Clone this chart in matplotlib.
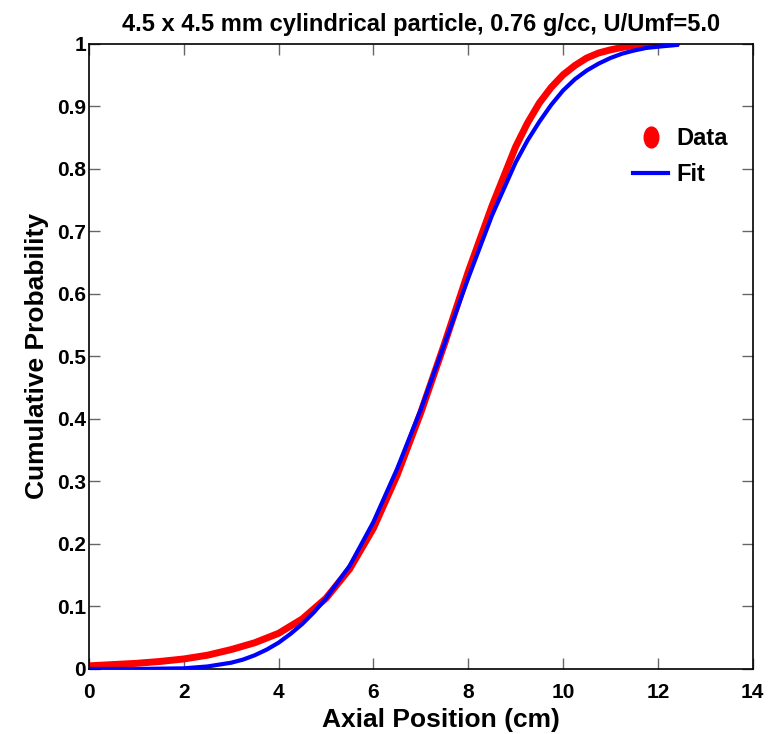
import matplotlib
matplotlib.use('Agg')
import matplotlib.pyplot as plt
from matplotlib.lines import Line2D
from matplotlib.markers import MarkerStyle
from matplotlib.transforms import Affine2D

# Измеренные точки (кумулятивное распределение)
data_x = [0.0, 0.5, 1.0, 1.5, 2.0, 2.5, 3.0, 3.5, 4.0, 4.5, 5.0, 5.5, 6.0, 6.5,
          7.0, 7.5, 8.0, 8.5, 9.0, 9.25, 9.5, 9.75, 10.0, 10.25, 10.5, 10.75,
          11.0, 11.25, 11.5, 12.0, 12.4]
data_y = [0.005, 0.007, 0.009, 0.012, 0.016, 0.022, 0.031, 0.042, 0.057, 0.08,
          0.113, 0.16, 0.225, 0.31, 0.41, 0.52, 0.635, 0.74, 0.835, 0.873,
          0.905, 0.93, 0.95, 0.965, 0.977, 0.985, 0.99, 0.994, 0.997, 0.999, 1.0]

# Аппроксимация
fit_x = [0.0, 1.0, 2.0, 2.5, 3.0, 3.25, 3.5, 3.75, 4.0, 4.25, 4.5, 4.75, 5.0,
         5.5, 6.0, 6.5, 7.0, 7.5, 8.0, 8.5, 9.0, 9.25, 9.5, 9.75, 10.0, 10.25,
         10.5, 10.75, 11.0, 11.25, 11.5, 11.75, 12.0, 12.4]
fit_y = [0.0, 0.0, 0.001, 0.004, 0.01, 0.015, 0.022, 0.031, 0.042, 0.056, 0.072,
         0.091, 0.113, 0.165, 0.235, 0.32, 0.415, 0.52, 0.625, 0.725, 0.81,
         0.845, 0.875, 0.902, 0.925, 0.943, 0.957, 0.968, 0.977, 0.984, 0.989,
         0.993, 0.995, 0.998]

x_ticks = [0, 2, 4, 6, 8, 10, 12, 14]
y_ticks = [0, 0.1, 0.2, 0.3, 0.4, 0.5, 0.6, 0.7, 0.8, 0.9, 1]
y_labels = ['0', '0.1', '0.2', '0.3', '0.4', '0.5', '0.6', '0.7', '0.8', '0.9', '1']

plt.rcParams['font.family'] = ['Liberation Sans', 'DejaVu Sans']

fig = plt.figure(figsize=(7.8, 7.34), dpi=100)
ax = fig.add_axes([0.114, 0.0886, 0.851, 0.852])

ax.plot(data_x, data_y, '-', color='red', lw=5, solid_capstyle='round', zorder=2)
ax.plot(fit_x, fit_y, '-', color='blue', lw=3, zorder=3)

ax.set_xlim(0, 14)
ax.set_ylim(0, 1)
ax.set_xticks(x_ticks)
ax.set_xticklabels([str(t) for t in x_ticks])
ax.set_yticks(y_ticks)
ax.set_yticklabels(y_labels)
ax.tick_params(direction='in', length=8, width=1, color='0.4',
               top=True, right=True, labelsize=15)
ax.tick_params(axis='x', pad=10)
ax.tick_params(axis='y', pad=2)
for lbl in ax.get_xticklabels() + ax.get_yticklabels():
    lbl.set_fontweight('bold')
for sp in ax.spines.values():
    sp.set_linewidth(1.2)

ax.set_title('4.5 x 4.5 mm cylindrical particle, 0.76 g/cc, U/Umf=5.0',
             fontsize=17, fontweight='bold', pad=9)
ax.set_xlabel('Axial Position (cm)', fontsize=19, fontweight='bold')
ax.xaxis.set_label_coords(0.53, -0.062)
ax.set_ylabel('Cumulative Probability', fontsize=19, fontweight='bold', labelpad=6)

ell = MarkerStyle('o', transform=Affine2D().scale(0.7, 1.0))
handles = [Line2D([], [], ls='none', marker=ell, color='red', ms=15),
           Line2D([], [], color='blue', lw=3)]
ax.legend(handles, ['Data', 'Fit'], loc='upper right', bbox_to_anchor=(0.995, 0.9),
          frameon=False, prop={'weight': 'bold', 'size': 17},
          handlelength=1.5, handletextpad=0.35, labelspacing=0.55)

fig.savefig('out.png', dpi=100)
